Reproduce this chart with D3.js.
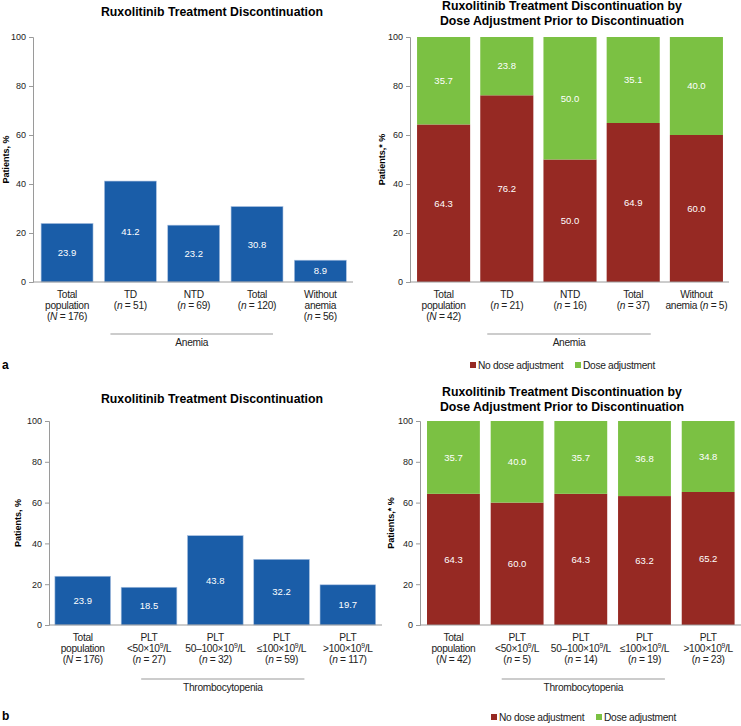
<!DOCTYPE html>
<html>
<head>
<meta charset="utf-8">
<script src="https://cdn.jsdelivr.net/npm/d3@7"></script>
<style>
  body { margin: 0; background: #fff; }
  svg { font-family: "Liberation Sans", Arial, sans-serif; }
  .lbl { letter-spacing: -0.3px; }
</style>
</head>
<body>
<svg id="chart" width="741" height="726"></svg>
<script>
// data. "|" splits lines, _x_ is italic, ^9 is superscript
var anemiaCats = ["Total|population|(_N_ = 176)", "TD|(_n_ = 51)", "NTD|(_n_ = 69)", "Total|(_n_ = 120)", "Without|anemia|(_n_ = 56)"];
var anemiaDisc = [23.9, 41.2, 23.2, 30.8, 8.9];

var anemiaDoseCats = ["Total|population|(_N_ = 42)", "TD|(_n_ = 21)", "NTD|(_n_ = 16)", "Total|(_n_ = 37)", "Without|anemia (_n_ = 5)"];
var anemiaNoAdj = [64.3, 76.2, 50.0, 64.9, 60.0];
var anemiaAdj   = [35.7, 23.8, 50.0, 35.1, 40.0];

var thrombCats = ["Total|population|(_N_ = 176)", "PLT|<50×10^9/L|(_n_ = 27)", "PLT|50–100×10^9/L|(_n_ = 32)", "PLT|≤100×10^9/L|(_n_ = 59)", "PLT|>100×10^9/L|(_n_ = 117)"];
var thrombDisc = [23.9, 18.5, 43.8, 32.2, 19.7];

var thrombDoseCats = ["Total|population|(_N_ = 42)", "PLT|<50×10^9/L|(_n_ = 5)", "PLT|50–100×10^9/L|(_n_ = 14)", "PLT|≤100×10^9/L|(_n_ = 19)", "PLT|>100×10^9/L|(_n_ = 23)"];
var thrombNoAdj = [64.3, 60.0, 64.3, 63.2, 65.2];
var thrombAdj   = [35.7, 40.0, 35.7, 36.8, 34.8];

var yTicks = [0, 20, 40, 60, 80, 100];
var legendNames = ["No dose adjustment", "Dose adjustment"];

var BLUE = "#1a5da8", RED = "#962923", GREEN = "#7bc143", AXIS = "#9a9a9a";
var FS = 10.2; // body text size (with slightly tightened spacing, see .lbl)

var svg = d3.select("#chart");

// write one line of label text, handling italics and superscripts
function richLine(txt, str) {
  var raised = false;
  str.split(/(_[^_]+_|\^\d)/).filter(function(s) { return s.length; }).forEach(function(p) {
    var t = txt.append("tspan");
    if (p[0] === "^") {
      t.text(p.slice(1)).attr("font-size", 6.8).attr("dy", -3.8);
      raised = true;
      return;
    }
    if (p[0] === "_") t.text(p.slice(1, -1)).style("font-style", "italic");
    else t.text(p);
    if (raised) { t.attr("dy", 3.8); raised = false; }
  });
}

function drawPanel(p) {
  var g = svg.append("g");
  var x = d3.scaleBand().domain(d3.range(p.cats.length)).range([p.x0, p.x1])
      .paddingInner(p.pad).paddingOuter(p.pad / 2);
  var y = d3.scaleLinear().domain([0, 100]).range([p.yBot, p.yTop]);

  // title
  p.title.forEach(function(t, i) {
    g.append("text").attr("x", p.titleX).attr("y", p.titleY + i * 14.5)
      .attr("text-anchor", "middle").attr("font-weight", "bold").attr("font-size", 12.3)
      .text(t);
  });

  // y axis
  var ax = g.append("g").attr("transform", "translate(" + p.axisX + ",0)")
    .call(d3.axisLeft(y).tickValues(yTicks).tickSize(4).tickPadding(3));
  ax.select(".domain").attr("stroke", AXIS);
  ax.selectAll(".tick line").attr("stroke", AXIS);
  ax.selectAll(".tick text").attr("font-size", 9).attr("fill", "#222")
    .attr("font-family", "Liberation Sans, Arial, sans-serif");

  g.append("text")
    .attr("transform", "translate(" + p.yLabelX + "," + ((p.yTop + p.yBot) / 2) + ")rotate(-90)")
    .attr("text-anchor", "middle").attr("font-weight", "bold").attr("font-size", 9)
    .text(p.yLabel);

  // bars
  if (p.values) {
    g.selectAll(".bar").data(p.values).enter().append("rect")
      .attr("x", function(d, i) { return x(i); })
      .attr("width", x.bandwidth())
      .attr("y", function(d) { return y(d); })
      .attr("height", function(d) { return y(0) - y(d); })
      .attr("fill", BLUE).attr("stroke", "#a9c0e0").attr("stroke-width", 0.6);
    g.selectAll(".val").data(p.values).enter().append("text")
      .attr("x", function(d, i) { return x(i) + x.bandwidth() / 2; })
      .attr("y", function(d) { return (y(d) + y(0)) / 2; })
      .attr("dy", "0.35em").attr("text-anchor", "middle")
      .attr("fill", "#fff").attr("font-size", 9.5)
      .text(function(d) { return d.toFixed(1); });
  } else {
    var rows = p.noAdj.map(function(v, i) { return { no: v, adj: p.adj[i] }; });
    var stacked = d3.stack().keys(["no", "adj"])(rows);
    var colors = { no: RED, adj: GREEN };
    stacked.forEach(function(layer) {
      g.selectAll(".seg-" + layer.key).data(layer).enter().append("rect")
        .attr("x", function(d, i) { return x(i); })
        .attr("width", x.bandwidth())
        .attr("y", function(d) { return y(d[1]); })
        .attr("height", function(d) { return y(d[0]) - y(d[1]); })
        .attr("fill", colors[layer.key]);
      g.selectAll(".lab-" + layer.key).data(layer).enter().append("text")
        .attr("x", function(d, i) { return x(i) + x.bandwidth() / 2; })
        .attr("y", function(d) { return (y(d[0]) + y(d[1])) / 2; })
        .attr("dy", "0.35em").attr("text-anchor", "middle")
        .attr("fill", "#fff").attr("font-size", 9.5)
        .text(function(d) { return (d[1] - d[0]).toFixed(1); });
    });
  }

  // x axis baseline drawn over the bars
  g.append("line").attr("x1", p.axisX).attr("x2", p.x1 + 1)
    .attr("y1", y(0)).attr("y2", y(0)).attr("stroke", AXIS);

  // category labels
  p.cats.forEach(function(c, i) {
    c.split("|").forEach(function(line, j) {
      var t = g.append("text").attr("class", "lbl").attr("x", x(i) + x.bandwidth() / 2)
        .attr("y", p.labelY + j * 11).attr("text-anchor", "middle")
        .attr("font-size", FS).attr("fill", "#222");
      richLine(t, line);
    });
  });

  // group bracket line + name
  var gx1 = x(1) + p.groupOff[0], gx2 = x(3) + x.bandwidth() + p.groupOff[1];
  g.append("line").attr("x1", gx1).attr("x2", gx2)
    .attr("y1", p.groupY).attr("y2", p.groupY).attr("stroke", AXIS).attr("stroke-width", 1.2);
  g.append("text").attr("class", "lbl").attr("x", (gx1 + gx2) / 2).attr("y", p.groupY + 12)
    .attr("text-anchor", "middle").attr("font-size", FS).attr("fill", "#222")
    .text(p.group);
}

function drawLegend(lx, ly) {
  var offs = [0, 105];
  legendNames.forEach(function(name, i) {
    svg.append("rect").attr("x", lx + offs[i]).attr("y", ly - 3).attr("width", 6).attr("height", 6)
      .attr("fill", i ? GREEN : RED);
    svg.append("text").attr("class", "lbl").attr("x", lx + offs[i] + 8).attr("y", ly).attr("dy", "0.35em")
      .attr("font-size", FS).attr("fill", "#222").text(name);
  });
}

var t1 = ["Ruxolitinib Treatment Discontinuation"];
var t2 = ["Ruxolitinib Treatment Discontinuation by", "Dose Adjustment Prior to Discontinuation"];

drawPanel({ cats: anemiaCats, values: anemiaDisc, x0: 35.4, x1: 352, pad: 0.18,
  yTop: 37, yBot: 282, axisX: 33, title: t1, titleX: 212, titleY: 16,
  yLabel: "Patients, %", yLabelX: 9, labelY: 298, group: "Anemia", groupY: 334, groupOff: [6, -10] });

drawPanel({ cats: anemiaDoseCats, noAdj: anemiaNoAdj, adj: anemiaAdj, x0: 412, x1: 728, pad: 0.16,
  yTop: 37, yBot: 282, axisX: 410, title: t2, titleX: 562, titleY: 10,
  yLabel: "Patients,* %", yLabelX: 385, labelY: 298, group: "Anemia", groupY: 334, groupOff: [7, -9] });

drawPanel({ cats: thrombCats, values: thrombDisc, x0: 49.6, x1: 381, pad: 0.16,
  yTop: 421, yBot: 625, axisX: 49, title: t1, titleX: 212, titleY: 403,
  yLabel: "Patients, %", yLabelX: 21, labelY: 641, group: "Thrombocytopenia", groupY: 679, groupOff: [20, -5] });

drawPanel({ cats: thrombDoseCats, noAdj: thrombNoAdj, adj: thrombAdj, x0: 421.6, x1: 740, pad: 0.17,
  yTop: 421, yBot: 625, axisX: 420, title: t2, titleX: 562, titleY: 396,
  yLabel: "Patients,* %", yLabelX: 394, labelY: 641, group: "Thrombocytopenia", groupY: 679, groupOff: [11, -6] });

drawLegend(470, 365);
drawLegend(491, 717);

svg.append("text").attr("x", 2).attr("y", 369).attr("font-weight", "bold").attr("font-size", 12).text("a");
svg.append("text").attr("x", 2).attr("y", 720).attr("font-weight", "bold").attr("font-size", 12).text("b");
</script>
</body>
</html>
